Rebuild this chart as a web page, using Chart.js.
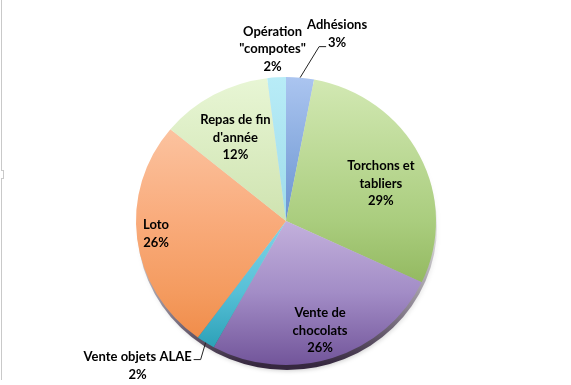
<!DOCTYPE html>
<html>
<head>
<meta charset="utf-8">
<script src="https://cdn.jsdelivr.net/npm/chart.js@4/dist/chart.umd.min.js"></script>
<style>
  html, body { margin: 0; padding: 0; background: #ffffff; }
  #wrap { position: relative; width: 571px; height: 385px; }
  #edge { position: absolute; left: 1px; top: 0; width: 1px; height: 380px; background: #c9c9c9; }
  #notch { position: absolute; left: 1px; top: 170px; width: 2px; height: 7px; border: 1px solid #c9c9c9; border-left: none; background: #fff; }
</style>
</head>
<body>
<div id="wrap">
  <canvas id="c" width="571" height="385"></canvas>
  <div id="edge"></div>
  <div id="notch"></div>
</div>
<script>
// ---- data ----
const categories = ['Adhésions', 'Torchons et tabliers', 'Vente de chocolats', 'Vente objets ALAE', 'Loto', "Repas de fin d'année", 'Opération "compotes"'];
const values = [3, 29, 26, 2, 26, 12, 2];
const labelLines = [
  ['Adhésions', '3%'],
  ['Torchons et', 'tabliers', '29%'],
  ['Vente de', 'chocolats', '26%'],
  ['Vente objets ALAE', '2%'],
  ['Loto', '26%'],
  ['Repas de fin', "d'année", '12%'],
  ['Opération', '"compotes"', '2%']
];

// ---- styles ----
const colorStops = [
  ['#abc5f0', '#6a94d0', '#4a7cc0', '#3a6cb0'],
  ['#d3e9b4', '#aacd7e', '#90b65c', '#7b9d46'],
  ['#d4c6e8', '#c3b0dc', '#a28cc6', '#72559a'],
  ['#a3e5f2', '#80d4e7', '#56bfd6', '#1f97ad'],
  ['#fdd0b4', '#f9ab7b', '#f49b5f', '#ee843e'],
  ['#e8f6d5', '#cfe3b0', '#bfd89c', '#abc887'],
  ['#b8ecf7', '#9edcea', '#88d0e2', '#70c4d8']
];
const SY = 0.96; // vertical squash (perspective tilt)
const labelPlace = [
  { type: 'out', elbow: [19, -31], tail: 7, text: [18, -13] },
  { type: 'in', f: 0.71, dx: 0, dy: 9 },
  { type: 'in', f: 0.80, dx: -3, dy: 0 },
  { type: 'out', elbow: [-5, 17], tail: -7, text: [-63, 6] },
  { type: 'in', f: 0.873, dx: 0, dy: -3 },
  { type: 'in', f: 0.70, dx: 0, dy: 5 },
  { type: 'none', text: [-4, -28] }
];
const FONT = 'bold 13px Lato, "Open Sans", sans-serif';
const LINE_H = 17.5;

function bg(ctx) {
  const chart = ctx.chart;
  const ca = chart.chartArea;
  const stops = colorStops[ctx.dataIndex];
  if (!ca) return stops[1];
  const size = Math.min(ca.right - ca.left, ca.bottom - ca.top);
  const cy = (ca.top + ca.bottom) / 2;
  const g = chart.ctx.createLinearGradient(0, cy - size / 2, 0, cy + size / 2);
  g.addColorStop(0, stops[0]);
  g.addColorStop(0.5, stops[1]);
  g.addColorStop(0.75, stops[2]);
  g.addColorStop(1, stops[3]);
  return g;
}

const tiltPlugin = {
  id: 'tilt',
  beforeDatasetsDraw(chart) {
    const arc = chart.getDatasetMeta(0).data[0];
    const ctx = chart.ctx;
    const cx = arc.x, cy = arc.y, r = arc.outerRadius;
    ctx.save();
    ctx.save();
    ctx.translate(cx, cy);
    ctx.scale(1, SY);
    ctx.beginPath();
    ctx.arc(1, 5 / SY, r, 0, Math.PI * 2);
    const g = ctx.createLinearGradient(0, 0, 0, r);
    g.addColorStop(0, 'rgba(120,120,120,0.15)');
    g.addColorStop(0.6, 'rgba(70,55,80,0.55)');
    g.addColorStop(1, 'rgba(45,30,55,0.95)');
    ctx.shadowColor = 'rgba(0,0,0,0.2)';
    ctx.shadowBlur = 4;
    ctx.shadowOffsetX = 1;
    ctx.shadowOffsetY = 1;
    ctx.fillStyle = g;
    ctx.fill();
    ctx.restore();
    ctx.translate(cx, cy);
    ctx.scale(1, SY);
    ctx.translate(-cx, -cy);
  },
  afterDatasetsDraw(chart) {
    chart.ctx.restore();
  },
  afterDraw(chart) {
    const ctx = chart.ctx;
    const els = chart.getDatasetMeta(0).data;
    ctx.save();
    ctx.font = FONT;
    ctx.fillStyle = '#000000';
    ctx.textBaseline = 'middle';
    els.forEach((el, i) => {
      const p = labelPlace[i];
      const mid = (el.startAngle + el.endAngle) / 2;
      const r = el.outerRadius;
      const ex = el.x + Math.cos(mid) * r;
      const ey = el.y + Math.sin(mid) * r * SY;
      let tx, ty;
      if (p.type === 'in') {
        tx = el.x + Math.cos(mid) * r * p.f + p.dx;
        ty = el.y + Math.sin(mid) * r * p.f * SY + p.dy;
      } else if (p.type === 'out') {
        const bx = ex + p.elbow[0], by = ey + p.elbow[1];
        ctx.save();
        ctx.strokeStyle = '#222222';
        ctx.lineWidth = 1;
        ctx.beginPath();
        ctx.moveTo(ex, ey);
        ctx.lineTo(bx, by);
        ctx.lineTo(bx + p.tail, by);
        ctx.stroke();
        ctx.restore();
        tx = bx + p.text[0];
        ty = by + p.text[1];
      } else {
        tx = ex + p.text[0];
        ty = ey + p.text[1];
      }
      const lines = labelLines[i];
      ctx.textAlign = 'center';
      const top = ty - (lines.length - 1) * LINE_H / 2;
      lines.forEach((ln, k) => ctx.fillText(ln, tx, top + k * LINE_H));
    });
    ctx.restore();
  }
};

new Chart(document.getElementById('c'), {
  type: 'pie',
  data: {
    labels: categories,
    datasets: [{
      data: values,
      backgroundColor: bg,
      borderWidth: 0,
      hoverOffset: 0
    }]
  },
  options: {
    responsive: false,
    animation: false,
    layout: { padding: { top: 71, bottom: 14, left: 1, right: 0 } },
    plugins: { legend: { display: false }, tooltip: { enabled: false } }
  },
  plugins: [tiltPlugin]
});
</script>
</body>
</html>
